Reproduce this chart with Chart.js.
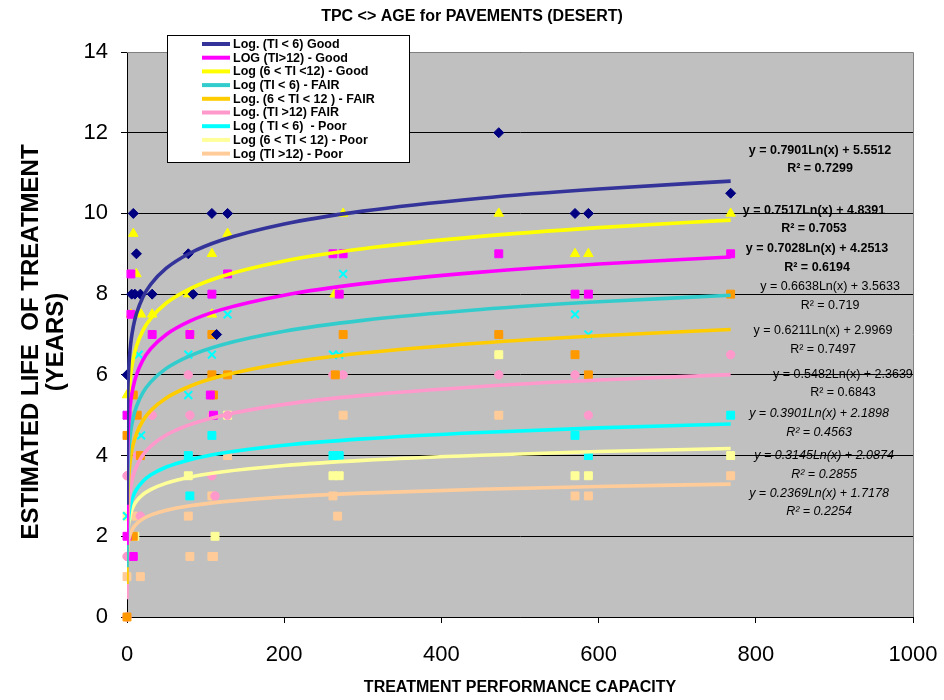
<!DOCTYPE html>
<html><head><meta charset="utf-8">
<script src="https://cdn.jsdelivr.net/npm/chart.js@4/dist/chart.umd.min.js"></script>
<style>html,body{margin:0;padding:0;background:#fff;}#wrap{position:relative;width:944px;height:700px;}</style>
</head><body><div id="wrap"><canvas id="c" width="944" height="700"></canvas></div>
<script>
// ---- texts ----
const chartTitle = 'TPC <> AGE for PAVEMENTS (DESERT)';
const xTitle = 'TREATMENT PERFORMANCE CAPACITY';
const yTitle = ['ESTIMATED LIFE  OF TREATMENT', '(YEARS)'];
const legendLabels = ['Log. (TI < 6) Good', 'LOG (TI>12) - Good', 'Log (6 < TI <12) - Good', 'Log (TI < 6) - FAIR',
  'Log. (6 < TI < 12 ) - FAIR', 'Log. (TI >12) FAIR', 'Log ( TI < 6)  - Poor', 'Log (6 < TI < 12) - Poor', 'Log (TI >12) - Poor'];
const xTicks = [0, 200, 400, 600, 800, 1000];
const yTicks = [0, 2, 4, 6, 8, 10, 12, 14];

// ---- observed points [TPC, years] ----
const goodLow = [[0,6],[6,8],[8,10],[10,8],[12,9],[17,8],[32,8],[78,9],[84,8],[108,10],[114,7],[128,10],[473,12],[570,10],[587,10],[768,10.5]];
const goodHigh = [[0,5],[0,2],[5,8.5],[5,7.5],[8,1.5],[32,7],[80,7],[106,5.5],[108,8],[110,5],[128,8.5],[262,9],[270,8],[275,9],[473,9],[570,8],[587,8],[768,9]];
const goodMid = [[0,5.5],[5,7.5],[8,9.5],[12,8.5],[18,7.5],[32,7.5],[78,8],[80,7],[108,9],[108,7.5],[128,9.5],[264,8],[270,8],[275,10],[473,10],[570,9],[587,9],[768,10]];
const fairLow = [[0,5],[0,2.5],[15,6.5],[18,4.5],[78,6.5],[78,5.5],[108,8],[108,6.5],[128,7.5],[262,6.5],[270,6.5],[275,8.5],[473,9],[570,7.5],[587,7]];
const fairMid = [[0,0],[0,4.5],[8,5.5],[8,2],[13,5],[17,4],[108,7],[108,6],[110,5.5],[128,6],[265,6],[275,7],[473,7],[570,6.5],[587,6],[768,8]];
const fairHigh = [[0,0],[0,3.5],[0,1.5],[8,1.5],[13,4],[17,2.5],[32,5],[78,6],[80,5],[108,5],[108,3.5],[112,3],[128,5],[262,6],[275,6],[473,6],[570,6],[587,5],[768,6.5]];
const poorLow = [[78,4],[80,3],[108,4.5],[262,4],[270,4],[570,4.5],[587,4],[768,5]];
const poorMid = [[0,2.5],[10,2],[78,3.5],[112,2],[128,5],[262,3.5],[270,3.5],[473,6.5],[570,3.5],[587,3.5],[768,4]];
const poorHigh = [[0,1],[8,2.5],[17,1],[78,2.5],[80,1.5],[108,1.5],[110,1.5],[108,3],[128,4],[262,3],[268,2.5],[275,5],[473,5],[570,3],[587,3],[768,3.5]];
const pointSets = [goodLow, goodHigh, goodMid, fairLow, fairMid, fairHigh, poorLow, poorMid, poorHigh];

// ---- trend lines as printed on the chart: y = a Ln(x) + b ----
const trendSlope = [0.7901, 0.7028, 0.7517, 0.6638, 0.6211, 0.5482, 0.3901, 0.3145, 0.2369];
const trendIntercept = [5.5512, 4.2513, 4.8391, 3.5633, 2.9969, 2.3639, 2.1898, 2.0874, 1.7178];
const trendR2 = ['0.7299', '0.6194', '0.7053', '0.719', '0.7497', '0.6843', '0.4563', '0.2855', '0.2254'];
const trendX = [0.03,0.05,0.08,0.12,0.2,0.3,0.5,0.8,1.2,2,3,5,8,12,20,30,50,80,120,200,300,450,600,768];

// ---- styles ----
const lineColors = ['#333399','#FF00FF','#FFFF00','#33CCCC','#FFCC00','#FF99CC','#00FFFF','#FFFF99','#FFCC99'];
const markerColors = ['#000080','#FF00FF','#FFFF00','#00FFFF','#FF9900','#FF99CC','#00FFFF','#FFFF99','#FFCC99'];
const markerStyles = ['rectRot','rect','triangle','crossRot','rect','circle','rect','rect','rect'];
const markerRadius = [5,5.6,5.5,5.5,5.6,4.2,5.6,5.6,5.6];
const eqFontStyle = ['bold','bold','bold','normal','normal','normal','italic','italic','italic'];
const eqAnchor = [[881.7,11.57],[877.9,9.12],[874,10.08],[894.4,8.18],[885.5,7.09],[910.9,6.02],[880.4,5.03],[886.8,3.99],[880.4,3.07]];

const FONT = '"Liberation Sans", Arial, sans-serif';
const datasets = [];
trendSlope.forEach((a, i) => {
  datasets.push({
    type: 'line', label: legendLabels[i], order: 0,
    data: trendX.map(x => ({x: x, y: a * Math.log(x) + trendIntercept[i]})),
    borderColor: lineColors[i], backgroundColor: lineColors[i], borderWidth: 3.6,
    pointRadius: 0, cubicInterpolationMode: 'monotone', fill: false
  });
});
pointSets.forEach((pts, i) => {
  datasets.push({
    type: 'scatter', label: 'pts' + i, order: 1, clip: false,
    data: pts.map(p => ({x: p[0], y: p[1]})),
    pointStyle: markerStyles[i], pointRadius: markerRadius[i],
    backgroundColor: markerColors[i], borderColor: markerColors[i],
    borderWidth: markerStyles[i] === 'crossRot' ? 2 : 1, showLine: false
  });
});

const deco = {
  id: 'deco',
  beforeDraw(chart) {
    const {ctx, chartArea: a} = chart;
    ctx.save();
    ctx.fillStyle = '#fff'; ctx.fillRect(0, 0, chart.width, chart.height);
    ctx.fillStyle = '#C0C0C0'; ctx.fillRect(a.left, a.top, a.right - a.left, a.bottom - a.top);
    ctx.restore();
  },
  afterDraw(chart) {
    const {ctx, chartArea: a, scales} = chart;
    ctx.save();
    // frame
    ctx.strokeStyle = '#808080'; ctx.lineWidth = 1;
    ctx.beginPath(); ctx.moveTo(a.left, a.top + 0.5); ctx.lineTo(a.right + 0.5, a.top + 0.5); ctx.lineTo(a.right + 0.5, a.bottom); ctx.stroke();
    // titles
    ctx.fillStyle = '#000'; ctx.textAlign = 'center'; ctx.textBaseline = 'middle';
    ctx.font = 'bold 16px ' + FONT;
    ctx.fillText(chartTitle, chart.width / 2, 17);
    ctx.font = 'bold 16px ' + FONT;
    ctx.fillText(xTitle, (a.left + a.right) / 2, 688);
    ctx.save();
    ctx.translate(31, 342); ctx.rotate(-Math.PI / 2);
    ctx.font = 'bold 24px ' + FONT;
    ctx.fillText(yTitle[0], 0, 0);
    ctx.fillText(yTitle[1], 0, 25);
    ctx.restore();
    // equations
    eqAnchor.forEach((p, i) => {
      const px = scales.x.getPixelForValue(p[0]);
      const py = scales.y.getPixelForValue(p[1]);
      const st = eqFontStyle[i];
      ctx.font = (st === 'bold' ? 'bold ' : st === 'italic' ? 'italic ' : '') + '12.5px ' + FONT;
      ctx.fillStyle = '#000';
      ctx.fillText('y = ' + trendSlope[i].toFixed(4) + 'Ln(x) + ' + trendIntercept[i].toFixed(4), px, py);
      ctx.fillText('R\u00B2 = ' + trendR2[i], px, py + 18.5);
    });
    // legend
    const L = 167, T = 35, R = 409, B = 162;
    ctx.fillStyle = '#fff'; ctx.fillRect(L, T, R - L, B - T);
    ctx.strokeStyle = '#000'; ctx.lineWidth = 1; ctx.strokeRect(L + 0.5, T + 0.5, R - L, B - T);
    ctx.textAlign = 'left'; ctx.font = 'bold 12.5px ' + FONT;
    legendLabels.forEach((lab, i) => {
      const y = 44 + i * 13.7;
      ctx.strokeStyle = lineColors[i]; ctx.lineWidth = 4;
      ctx.beginPath(); ctx.moveTo(202, y); ctx.lineTo(230, y); ctx.stroke();
      ctx.fillStyle = '#000'; ctx.fillText(lab, 233, y + 0.5);
    });
    ctx.restore();
  }
};

new Chart(document.getElementById('c'), {
  type: 'scatter',
  data: {datasets},
  options: {
    responsive: false, animation: false, devicePixelRatio: 1,
    layout: {padding: {top: 52, right: 31, left: 0, bottom: 0}},
    plugins: {legend: {display: false}, title: {display: false}, tooltip: {enabled: false}},
    scales: {
      x: {
        type: 'linear', min: 0, max: 1000,
        afterFit: s => { s.height = 83; s.paddingRight = 25; },
        afterBuildTicks: s => { s.ticks = xTicks.map(v => ({value: v})); },
        grid: {drawOnChartArea: false, color: '#000', tickLength: 6},
        border: {color: '#000', width: 1},
        ticks: {color: '#000', font: {family: FONT, size: 22}, padding: 19, maxRotation: 0, callback: v => String(v)}
      },
      y: {
        type: 'linear', min: 0, max: 14,
        afterFit: s => { s.width = 127; },
        afterBuildTicks: s => { s.ticks = yTicks.map(v => ({value: v})); },
        grid: {color: '#000', lineWidth: 1, tickLength: 6},
        border: {color: '#000', width: 1},
        ticks: {color: '#000', font: {family: FONT, size: 22}, padding: 13, callback: v => String(v)}
      }
    }
  },
  plugins: [deco]
});
</script></body></html>
